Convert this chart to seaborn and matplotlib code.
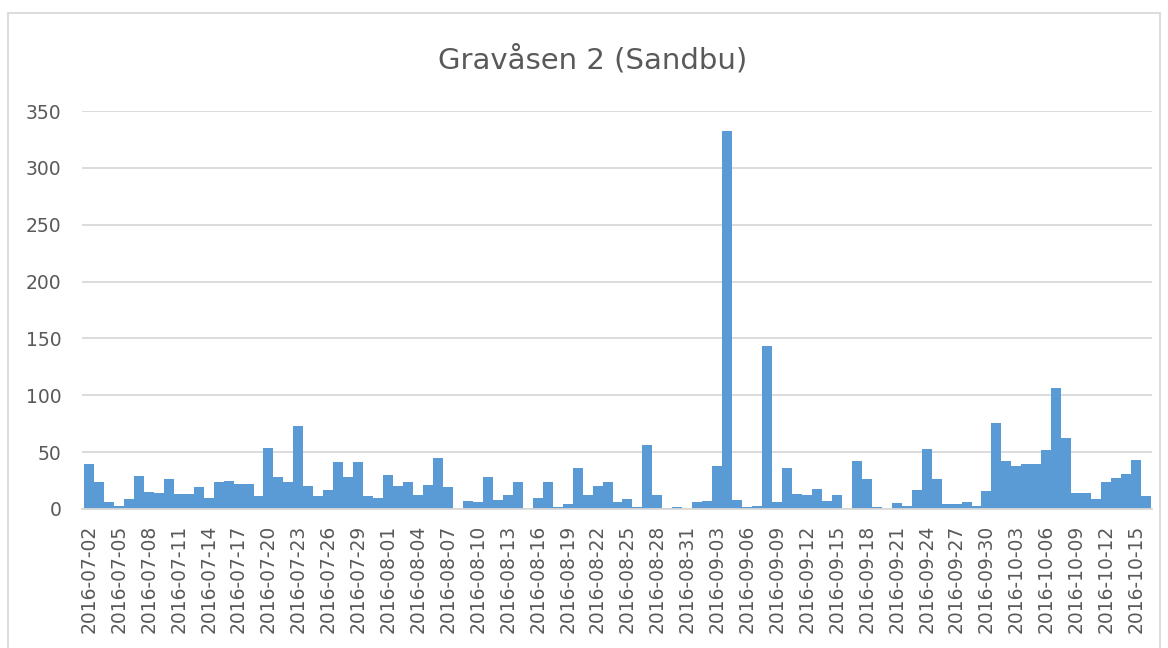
import pandas as pd
import matplotlib.pyplot as plt
import seaborn as sns
from matplotlib.patches import Rectangle

# daily values, 2016-07-02 .. 2016-10-16
jul = [40, 24, 6, 3, 9, 29, 15, 14, 26, 13, 13, 19, 10, 24, 25, 22, 22, 11, 54, 28,
       24, 73, 20, 11, 17, 41, 28, 41, 11, 10]
aug = [30, 20, 24, 12, 21, 45, 19, 0, 7, 6, 28, 8, 12, 24, 0, 10, 24, 2, 4, 36,
       12, 20, 24, 6, 9, 2, 56, 12, 1, 2, 0]
sep = [6, 7, 38, 332, 8, 2, 3, 143, 6, 36, 13, 12, 18, 7, 12, 0, 42, 26, 2, 0,
       5, 3, 17, 53, 26, 4, 4, 6, 3, 16]
okt = [76, 42, 38, 40, 40, 52, 106, 62, 14, 14, 9, 24, 27, 31, 43, 11]

dates = pd.date_range("2016-07-02", "2016-10-16", freq="D").strftime("%Y-%m-%d").tolist()
values = jul + aug + sep + okt
df = pd.DataFrame({"dato": dates, "antall": values})

title = "Gravåsen 2 (Sandbu)"
grey_text = "#595959"
grid = "#d9d9d9"
blue = "#5b9bd5"

sns.set_style("white")
plt.rcParams["font.family"] = ["DejaVu Sans"]

fig = plt.figure(figsize=(11.68, 6.48), dpi=100)
ax = fig.add_axes([82 / 1168, 1 - 509 / 648, (1152 - 82) / 1168, (509 - 111) / 648])

sns.barplot(data=df, x="dato", y="antall", color=blue, width=1.0, saturation=1,
            linewidth=0, ax=ax)

ax.set_ylim(0, 350)
ax.set_yticks(range(0, 351, 50))
ax.set_xlim(-0.7, len(dates) - 0.4)
ax.set_xticks(range(0, len(dates), 3))
ax.set_xticklabels(dates[::3], rotation=90)
ax.set_xlabel("")
ax.set_ylabel("")
ax.yaxis.grid(True, color=grid, linewidth=1.3)
ax.set_axisbelow(True)
ax.tick_params(axis="y", length=0, pad=15, labelsize=13.5, labelcolor=grey_text)
ax.tick_params(axis="x", length=0, pad=11, labelsize=13.5, labelcolor=grey_text)
for s in ["top", "right", "left"]:
    ax.spines[s].set_visible(False)
ax.spines["bottom"].set_color(grid)
ax.spines["bottom"].set_linewidth(1.3)

fig.text(593 / 1168, 1 - 60 / 648, title, ha="center", va="center",
         fontsize=21, color=grey_text)

# chart area border
fig.patches.append(Rectangle((7.5 / 1168, -0.05), (1160 - 7.5) / 1168, 1.05 - 12.5 / 648,
                             transform=fig.transFigure, fill=False,
                             edgecolor=grid, linewidth=1.3))

fig.savefig("out.png", dpi=100)
